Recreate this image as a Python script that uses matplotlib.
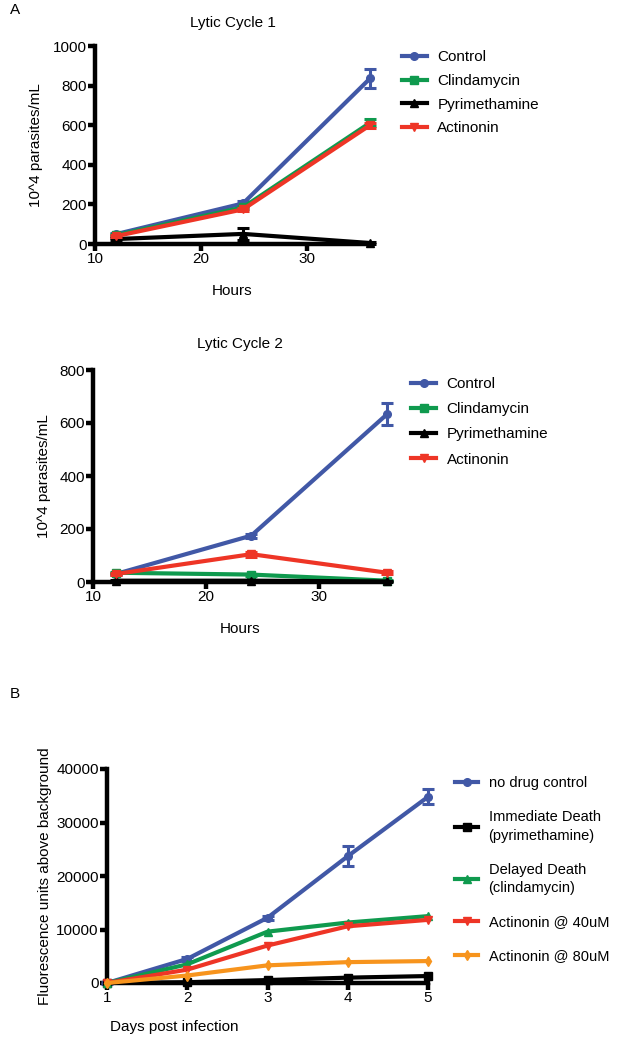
import matplotlib

matplotlib.use("Agg")
import matplotlib.pyplot as plt  # noqa: E402

plt.rcParams["font.family"] = ["Liberation Sans", "DejaVu Sans"]

W, H = 617, 1038
BLUE = "#4158a6"
GREEN = "#0f9a4e"
BLACK = "#000000"
RED = "#ee3526"
ORANGE = "#f7941d"
FS = 11

# Lytic cycle 1
hours = [12, 24, 36]
lc1_control = [50, 205, 836]
lc1_control_err = [8, 12, 48]
lc1_clinda = [45, 185, 612]
lc1_clinda_err = [5, 8, 18]
lc1_pyri = [25, 51, 5]
lc1_pyri_err = [4, 31, 3]
lc1_actin = [40, 175, 600]
lc1_actin_err = [5, 8, 12]

# Lytic cycle 2
lc2_control = [30, 175, 633]
lc2_control_err = [5, 8, 42]
lc2_clinda = [35, 28, 5]
lc2_clinda_err = [4, 4, 2]
lc2_pyri = [5, 5, 2]
lc2_pyri_err = [2, 2, 1]
lc2_actin = [30, 105, 35]
lc2_actin_err = [4, 10, 6]

# Panel B
days = [1, 2, 3, 4, 5]
b_control = [0, 4500, 12200, 23700, 34800]
b_control_err = [150, 300, 400, 1850, 1400]
b_immediate = [0, 150, 550, 1000, 1300]
b_delayed = [0, 3500, 9600, 11300, 12500]
b_act40 = [0, 2500, 7000, 10600, 11800]
b_act80 = [0, 1400, 3300, 3900, 4100]

fig = plt.figure(figsize=(W / 100, H / 100), dpi=100)


def px_axes(left, top, right, bottom):
    return fig.add_axes([left / W, 1 - bottom / H, (right - left) / W, (bottom - top) / H])


def style(ax):
    for s in ["top", "right"]:
        ax.spines[s].set_visible(False)
    for s in ["left", "bottom"]:
        ax.spines[s].set_linewidth(3.2)
    ax.tick_params(width=3.2, length=5, labelsize=FS, pad=1)


def series(ax, x, y, err, color, marker, label):
    ax.plot(x, y, color=color, lw=3, marker=marker, ms=5.5, label=label, clip_on=False, zorder=3)
    if err is not None:
        ax.errorbar(x, y, yerr=err, fmt="none", ecolor=color, capsize=4, capthick=2.2,
                    elinewidth=2.2, clip_on=False, zorder=3)


def legend(ax, x, y, spacing, fs=FS):
    return ax.legend(loc="upper left", bbox_to_anchor=(x, y), frameon=False, fontsize=fs,
                     handlelength=1.6, handletextpad=0.7, labelspacing=spacing, borderaxespad=0)


# ── Lytic cycle 1 ──
ax1 = px_axes(95, 46, 370, 244)
series(ax1, hours, lc1_control, lc1_control_err, BLUE, "o", "Control")
series(ax1, hours, lc1_clinda, lc1_clinda_err, GREEN, "s", "Clindamycin")
series(ax1, hours, lc1_pyri, lc1_pyri_err, BLACK, "^", "Pyrimethamine")
series(ax1, hours, lc1_actin, lc1_actin_err, RED, "v", "Actinonin")
ax1.set_xlim(10, 36)
ax1.set_ylim(0, 1000)
ax1.set_xticks([10, 20, 30])
ax1.set_yticks([0, 200, 400, 600, 800, 1000])
style(ax1)
ax1.set_title("Lytic Cycle 1", fontsize=FS, pad=14)
ax1.set_xlabel("Hours", fontsize=FS, labelpad=13)
ax1.set_ylabel("10^4 parasites/mL", fontsize=FS, labelpad=7)
legend(ax1, 1.095, 1.01, 0.64)

# ── Lytic cycle 2 ──
ax2 = px_axes(93, 370, 387, 582)
series(ax2, hours, lc2_control, lc2_control_err, BLUE, "o", "Control")
series(ax2, hours, lc2_clinda, lc2_clinda_err, GREEN, "s", "Clindamycin")
series(ax2, hours, lc2_pyri, lc2_pyri_err, BLACK, "^", "Pyrimethamine")
series(ax2, hours, lc2_actin, lc2_actin_err, RED, "v", "Actinonin")
ax2.set_xlim(10, 36)
ax2.set_ylim(0, 800)
ax2.set_xticks([10, 20, 30])
ax2.set_yticks([0, 200, 400, 600, 800])
style(ax2)
ax2.set_title("Lytic Cycle 2", fontsize=FS, pad=16)
ax2.set_xlabel("Hours", fontsize=FS, labelpad=13)
ax2.set_ylabel("10^4 parasites/mL", fontsize=FS, labelpad=6)
legend(ax2, 1.062, 0.995, 0.73)

# ── Panel B ──
ax3 = px_axes(107, 769, 428, 983)
series(ax3, days, b_control, b_control_err, BLUE, "o", "no drug control")
series(ax3, days, b_immediate, None, BLACK, "s", "Immediate Death\n(pyrimethamine)")
series(ax3, days, b_delayed, None, GREEN, "^", "Delayed Death\n(clindamycin)")
series(ax3, days, b_act40, None, RED, "v", "Actinonin @ 40uM")
series(ax3, days, b_act80, None, ORANGE, "d", "Actinonin @ 80uM")
ax3.set_xlim(1, 5)
ax3.set_ylim(0, 40000)
ax3.set_xticks([1, 2, 3, 4, 5])
ax3.set_yticks([0, 10000, 20000, 30000, 40000])
style(ax3)
ax3.set_xlabel("Days post infection", fontsize=FS)
ax3.xaxis.set_label_coords(0.21, -0.175)
ax3.set_ylabel("Fluorescence units above background", fontsize=FS, labelpad=3)
leg3 = legend(ax3, 1.066, 0.995, 1.36, fs=10.5)
for t in leg3.get_texts():
    t.set_linespacing(1.45)

fig.text(10 / W, 1 - 14 / H, "A", fontsize=FS)
fig.text(10 / W, 1 - 698 / H, "B", fontsize=FS)

fig.savefig("out.png", dpi=100)
